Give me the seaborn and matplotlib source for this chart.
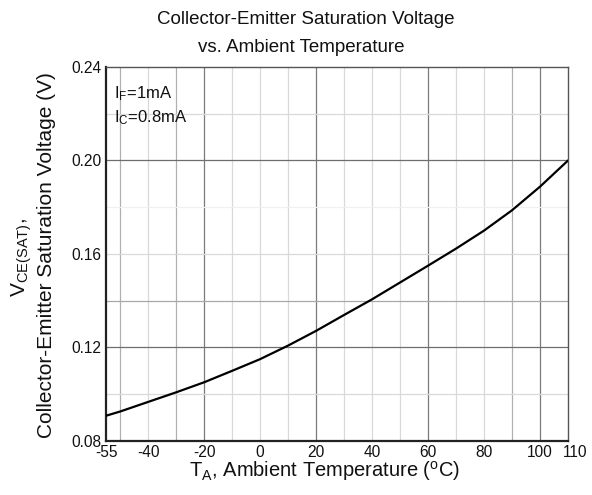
import matplotlib
matplotlib.use("Agg")
import matplotlib.pyplot as plt
import matplotlib.transforms as mtransforms
import seaborn as sns
import pandas as pd

temps = [-55, -50, -40, -30, -20, -10, 0, 10, 20, 30, 40, 50, 60, 70, 80, 90, 100, 110]
vce_sat = [0.0908, 0.0926, 0.0967, 0.1008, 0.1051, 0.1100, 0.1150, 0.1208, 0.1271,
           0.1339, 0.1406, 0.1478, 0.1550, 0.1623, 0.1700, 0.1787, 0.1888, 0.2000]
x_ticks = [-55, -40, -20, 0, 20, 40, 60, 80, 100, 110]
y_ticks = [0.08, 0.12, 0.16, 0.20, 0.24]
y_tick_labels = ["0.08", "0.12", "0.16", "0.20", "0.24"]

sns.set_theme(style="white")
plt.rcParams['font.family'] = ['Liberation Sans', 'DejaVu Sans']
plt.rcParams['mathtext.fontset'] = 'custom'
plt.rcParams['mathtext.rm'] = 'Liberation Sans'
plt.rcParams['mathtext.it'] = 'Liberation Sans'
plt.rcParams['text.color'] = '#111111'
plt.rcParams['xtick.color'] = '#111111'
plt.rcParams['ytick.color'] = '#111111'

df = pd.DataFrame({"T": temps, "V": vce_sat})

fig = plt.figure(figsize=(5.92, 4.95), dpi=100)
ax = fig.add_axes([106/592, 1 - 441/495, (568-106)/592, (441-67)/495])

# grid lines
dark_v = [-20, 20, 60, 100]
mid_v = [-50, -30, 90]
light_v = [-40, -10, 0, 10, 30, 40, 50, 70, 80]
for v in light_v:
    ax.axvline(v, color="#d9d9d9", lw=0.9, zorder=1)
for v in mid_v:
    ax.axvline(v, color="#b0b0b0", lw=0.9, zorder=1)
for v in dark_v:
    ax.axvline(v, color="#7a7a7a", lw=0.9, zorder=1)
for h in [0.10, 0.16, 0.22]:
    ax.axhline(h, color="#d9d9d9", lw=0.9, zorder=1)
ax.axhline(0.18, color="#f0f0f0", lw=0.9, zorder=1)
ax.axhline(0.14, color="#a8a8a8", lw=0.9, zorder=1)
for h in [0.12, 0.20]:
    ax.axhline(h, color="#6e6e6e", lw=0.9, zorder=1)

sns.lineplot(data=df, x="T", y="V", ax=ax, color="black", lw=1.6, zorder=3)

ax.set_xlim(-55, 110)
ax.set_ylim(0.08, 0.24)
ax.set_xticks(x_ticks)
ax.set_xticklabels([str(t) for t in x_ticks], fontsize=11.2)
ax.set_yticks(y_ticks)
ax.set_yticklabels(y_tick_labels, fontsize=11.2)
ax.tick_params(axis='both', length=0, pad=3, colors='#111111')
ax.set_xlabel("")
ax.set_ylabel("")

# nudge the last x tick label right, as in the reference
last = ax.get_xticklabels()[-1]
last.set_transform(last.get_transform() + mtransforms.ScaledTranslation(7/100, 0, fig.dpi_scale_trans))

for s in ["left", "bottom"]:
    ax.spines[s].set_color("#222222")
    ax.spines[s].set_linewidth(1.6)
for s in ["top", "right"]:
    ax.spines[s].set_color("#555555")
    ax.spines[s].set_linewidth(1.0)

ax.text(0.018, 0.955, r"$\mathregular{I_F}$=1mA", transform=ax.transAxes,
        fontsize=12, va="top", ha="left")
ax.text(0.018, 0.89, r"$\mathregular{I_C}$=0.8mA", transform=ax.transAxes,
        fontsize=12, va="top", ha="left")

fig.text(306/592, 1 - 20/495, "Collector-Emitter Saturation Voltage",
         ha="center", va="center", fontsize=13.5)
fig.text(301/592, 1 - 47/495, "vs. Ambient Temperature",
         ha="center", va="center", fontsize=13.5)

fig.text(325/592, 1 - 471/495, r"$\mathregular{T_A}$, Ambient Temperature ($\mathregular{^oC}$)",
         ha="center", va="center", fontsize=14.5)

fig.text(22/592, 1 - 258/495, r"$\mathregular{V_{CE(SAT)}}$,",
         ha="center", va="center", rotation=90, fontsize=15)
fig.text(47/592, 1 - 255/495, "Collector-Emitter Saturation Voltage (V)",
         ha="center", va="center", rotation=90, fontsize=15)

fig.savefig("out.png", dpi=100)
